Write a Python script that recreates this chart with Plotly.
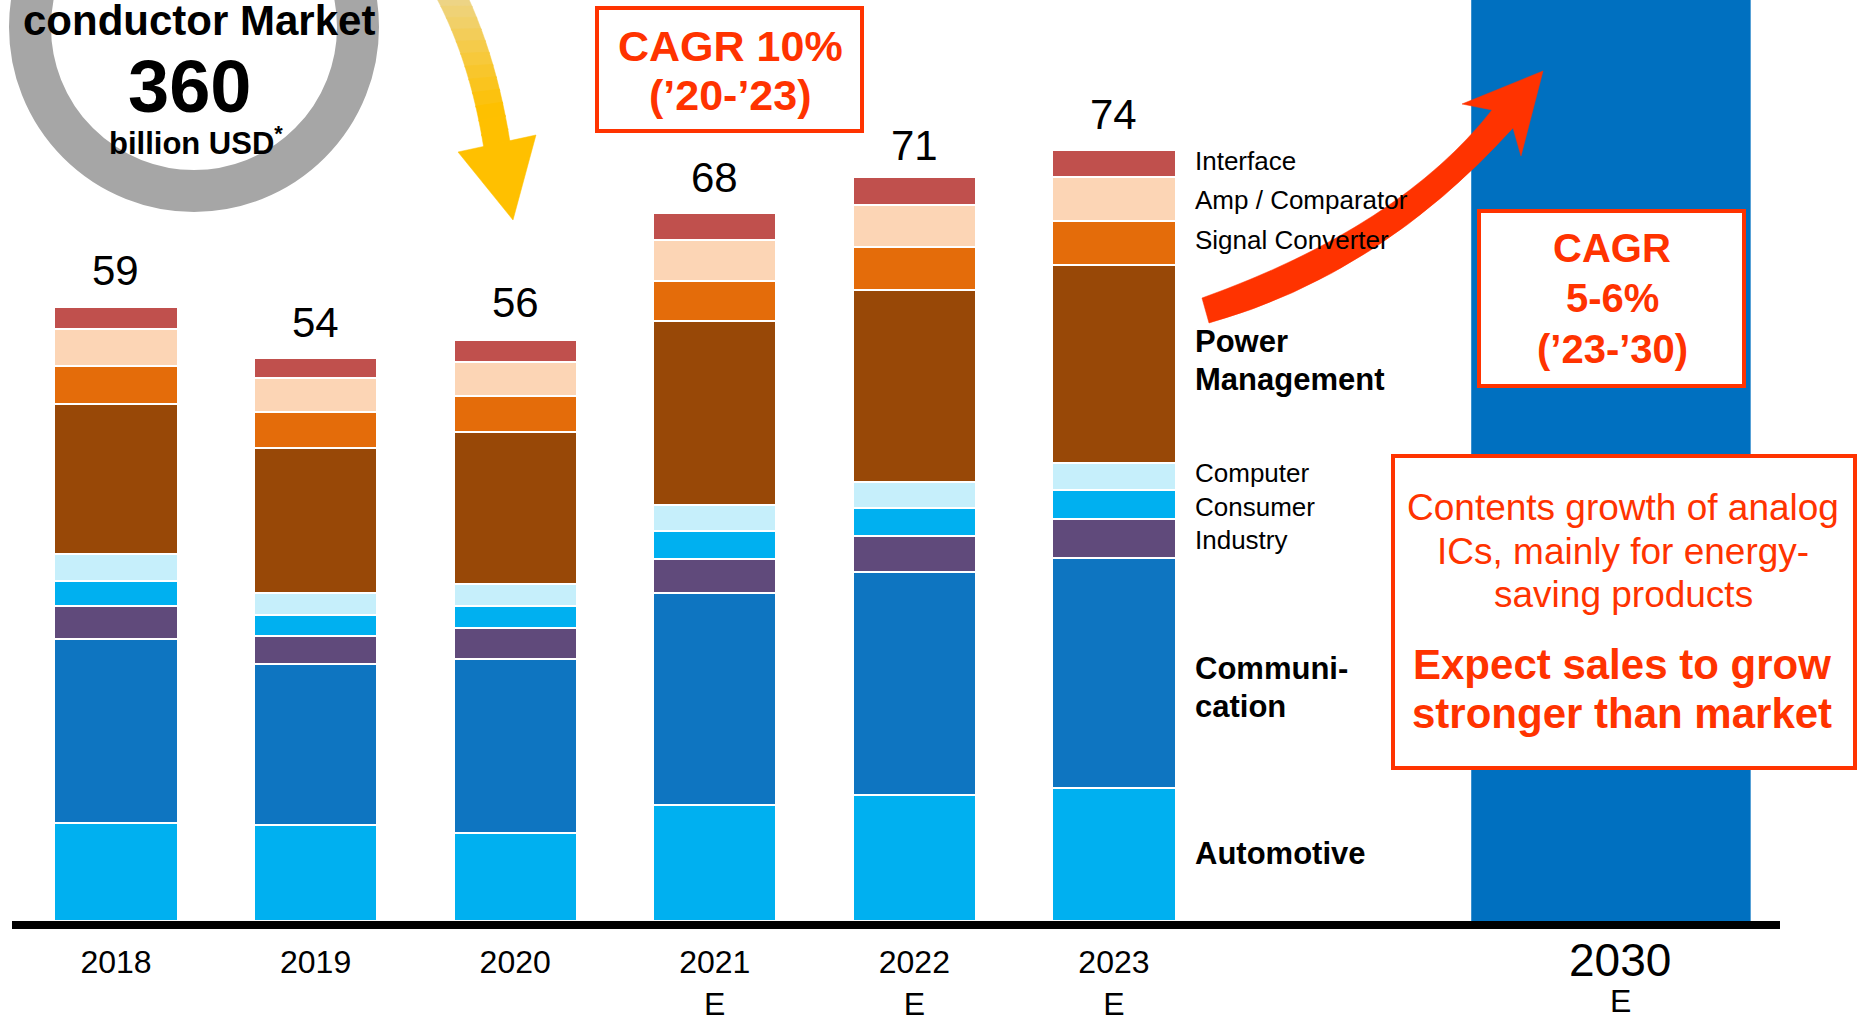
import plotly.graph_objects as go

# ---------------- data ----------------
years = ["2018", "2019", "2020", "2021", "2022", "2023"]
year_ticks = ["2018", "2019", "2020", "2021<br>E", "2022<br>E", "2023<br>E"]
totals = [59, 54, 56, 68, 71, 74]

automotive = [9.4, 9.2, 8.5, 11.1, 12.1, 12.8]
communication = [17.7, 15.5, 16.7, 20.4, 21.4, 22.1]
industry = [3.2, 2.7, 2.9, 3.3, 3.5, 3.7]
consumer = [2.4, 2.0, 2.2, 2.7, 2.7, 2.8]
computer = [2.6, 2.1, 2.1, 2.5, 2.5, 2.6]
power_mgmt = [14.4, 13.9, 14.6, 17.6, 18.4, 19.0]
signal_conv = [3.6, 3.5, 3.4, 3.9, 4.1, 4.2]
amp_comp = [3.6, 3.3, 3.3, 3.9, 4.1, 4.3]
interface = [2.1, 1.9, 2.1, 2.6, 2.7, 2.6]

series_names = ["Automotive", "Communication", "Industry", "Consumer", "Computer",
                "Power Management", "Signal Converter", "Amp / Comparator", "Interface"]
series_values = [automotive, communication, industry, consumer, computer,
                 power_mgmt, signal_conv, amp_comp, interface]
series_colors = ["#00B0F0", "#0E75C1", "#604A7B", "#00B0F0", "#C6EFFB",
                 "#984807", "#E46C0A", "#FCD5B5", "#C0504D"]

# ---------------- geometry helpers ----------------
W, H = 1858, 1017
FONT = "Liberation Sans, Arial, Helvetica, sans-serif"
RED = "#FF3300"

def PX(x):
    return x / W

def PY(y):
    return 1 - y / H

x_pos = list(range(len(years)))
x2030 = 7.49
x_min, x_max = -0.521, 8.337
y_max = 88.47

fig = go.Figure()
for name, vals, col in zip(series_names, series_values, series_colors):
    fig.add_trace(go.Bar(
        x=x_pos, y=vals, name=name, width=0.617,
        marker=dict(color=col, line=dict(color="white", width=2)),
        hoverinfo="skip", showlegend=False,
    ))

shapes = []
annotations = []

# 2030 forecast column
shapes.append(dict(type="rect", xref="x", yref="y", x0=x2030 - 0.70, x1=x2030 + 0.70,
                   y0=0, y1=y_max, fillcolor="#0070C0", line=dict(width=0), layer="below"))
# baseline
shapes.append(dict(type="rect", xref="paper", yref="paper", x0=PX(12), x1=PX(1780),
                   y0=PY(929), y1=PY(921), fillcolor="black", line=dict(width=0), layer="above"))
# grey ring
cx, cy, rm = 194, 27, 164
shapes.append(dict(type="circle", xref="paper", yref="paper",
                   x0=PX(cx - rm), x1=PX(cx + rm), y0=PY(cy + rm), y1=PY(cy - rm),
                   line=dict(color="#A6A6A6", width=42), fillcolor="rgba(0,0,0,0)", layer="above"))

# yellow arrow (gradient shaft)
def qb(p0, c, p2, t):
    return ((1 - t) ** 2 * p0[0] + 2 * (1 - t) * t * c[0] + t ** 2 * p2[0],
            (1 - t) ** 2 * p0[1] + 2 * (1 - t) * t * c[1] + t ** 2 * p2[1])

L0, LC, L2 = (435, -5), (470, 60), (484, 149)
R0, RC, R2 = (467, -5), (497, 60), (510, 142)
c_top = (236, 214, 142)
c_bot = (255, 192, 0)
N = 12
for i in range(N):
    t0, t1 = i / N, (i + 1) / N + 0.01
    a, b = qb(L0, LC, L2, t0), qb(L0, LC, L2, min(t1, 1))
    c, d = qb(R0, RC, R2, min(t1, 1)), qb(R0, RC, R2, t0)
    f = min(1.0, ((t0 + t1) / 2) / 0.8)
    col = "rgb(%d,%d,%d)" % tuple(int(c_top[k] + (c_bot[k] - c_top[k]) * f) for k in range(3))
    path = "M %f,%f L %f,%f L %f,%f L %f,%f Z" % (PX(a[0]), PY(a[1]), PX(b[0]), PY(b[1]),
                                                  PX(c[0]), PY(c[1]), PX(d[0]), PY(d[1]))
    shapes.append(dict(type="path", xref="paper", yref="paper", path=path,
                       fillcolor=col, line=dict(color=col, width=0.5), layer="above"))
head = [(458, 152), (513, 220), (536, 135)]
path = "M " + " L ".join("%f,%f" % (PX(x), PY(y)) for x, y in head) + " Z"
shapes.append(dict(type="path", xref="paper", yref="paper", path=path,
                   fillcolor="#FFC000", line=dict(color="#FFC000", width=0.5), layer="above"))

# red arrow
def P(x, y):
    return "%f,%f" % (PX(x), PY(y))

red_path = ("M " + P(1202, 298) + " Q " + P(1400, 227) + " " + P(1492, 110) +
            " L " + P(1462, 104) + " L " + P(1543, 71) + " L " + P(1521, 156) +
            " L " + P(1513, 128) + " Q " + P(1380, 275) + " " + P(1209, 323) + " Z")
shapes.append(dict(type="path", xref="paper", yref="paper", path=red_path,
                   fillcolor=RED, line=dict(color=RED, width=0.5), layer="above"))

# boxes
def box(x0, y0, x1, y1):
    shapes.append(dict(type="rect", xref="paper", yref="paper", x0=PX(x0), x1=PX(x1),
                       y0=PY(y1), y1=PY(y0), fillcolor="white",
                       line=dict(color=RED, width=4), layer="above"))

box(597, 8, 862, 131)
box(1479, 211, 1744, 386)
box(1393, 456, 1855, 768)

def txt(s, x, y, size, color="black", xanchor="center"):
    annotations.append(dict(text=s, x=PX(x), y=PY(y), xref="paper", yref="paper",
                            xanchor=xanchor, yanchor="middle", showarrow=False,
                            font=dict(family=FONT, size=size, color=color)))

# ring text
txt("<b>conductor Market</b>", 199, 21, 42)
txt("<b>360</b>", 189, 86, 74)
txt("<b>billion USD<sup>*</sup></b>", 196, 141, 31)

# CAGR boxes
txt("<b>CAGR 10%</b>", 730, 46, 43, RED)
txt("<b>(’20-’23)</b>", 730, 95, 43, RED)
txt("<b>CAGR</b>", 1612, 248, 40, RED)
txt("<b>5-6%</b>", 1612, 298, 40, RED)
txt("<b>(’23-’30)</b>", 1612, 349, 40, RED)

# bottom text box
txt("Contents growth of analog", 1623, 507, 37, RED)
txt("ICs, mainly for energy-", 1623, 551, 37, RED)
txt("saving products", 1623, 594, 37, RED)
txt("<b>Expect sales to grow</b>", 1622, 664, 42, RED)
txt("<b>stronger than market</b>", 1622, 713, 42, RED)

# series labels
LX = 1193
txt("Interface", LX, 161, 26, xanchor="left")
txt("Amp / Comparator", LX, 200, 26, xanchor="left")
txt("Signal Converter", LX, 240, 26, xanchor="left")
txt("<b>Power</b>", LX, 341, 31, xanchor="left")
txt("<b>Management</b>", LX, 379, 31, xanchor="left")
txt("Computer", LX, 473, 26, xanchor="left")
txt("Consumer", LX, 507, 26, xanchor="left")
txt("Industry", LX, 540, 26, xanchor="left")
txt("<b>Communi-</b>", LX, 668, 31, xanchor="left")
txt("<b>cation</b>", LX, 706, 31, xanchor="left")
txt("<b>Automotive</b>", LX, 853, 31, xanchor="left")

# 2030 category label
txt("2030", 1620, 960, 46)
txt("E", 1620, 1001, 32)

# totals
for xi, tot in zip(x_pos, totals):
    annotations.append(dict(text=str(tot), x=xi, y=tot, xref="x", yref="y",
                            xanchor="center", yanchor="middle", yshift=36, showarrow=False,
                            font=dict(family=FONT, size=42, color="black")))

fig.update_layout(
    width=W, height=H,
    margin=dict(l=0, r=0, t=0, b=0),
    barmode="stack",
    paper_bgcolor="white", plot_bgcolor="rgba(0,0,0,0)",
    showlegend=False,
    xaxis=dict(domain=[PX(12), PX(1780)], range=[x_min, x_max], tickmode="array",
               tickvals=x_pos, ticktext=year_ticks, ticks="", showgrid=False,
               zeroline=False, showline=False, automargin=False, ticklabelstandoff=19,
               tickfont=dict(family=FONT, size=32, color="black")),
    yaxis=dict(domain=[1 - 921 / H, 1], range=[0, y_max], visible=False,
               showgrid=False, zeroline=False, automargin=False),
    shapes=shapes,
    annotations=annotations,
)

fig.write_html("out.html", config={"displayModeBar": False},
               post_script="document.body.style.margin='0px';document.body.style.overflow='hidden';")
